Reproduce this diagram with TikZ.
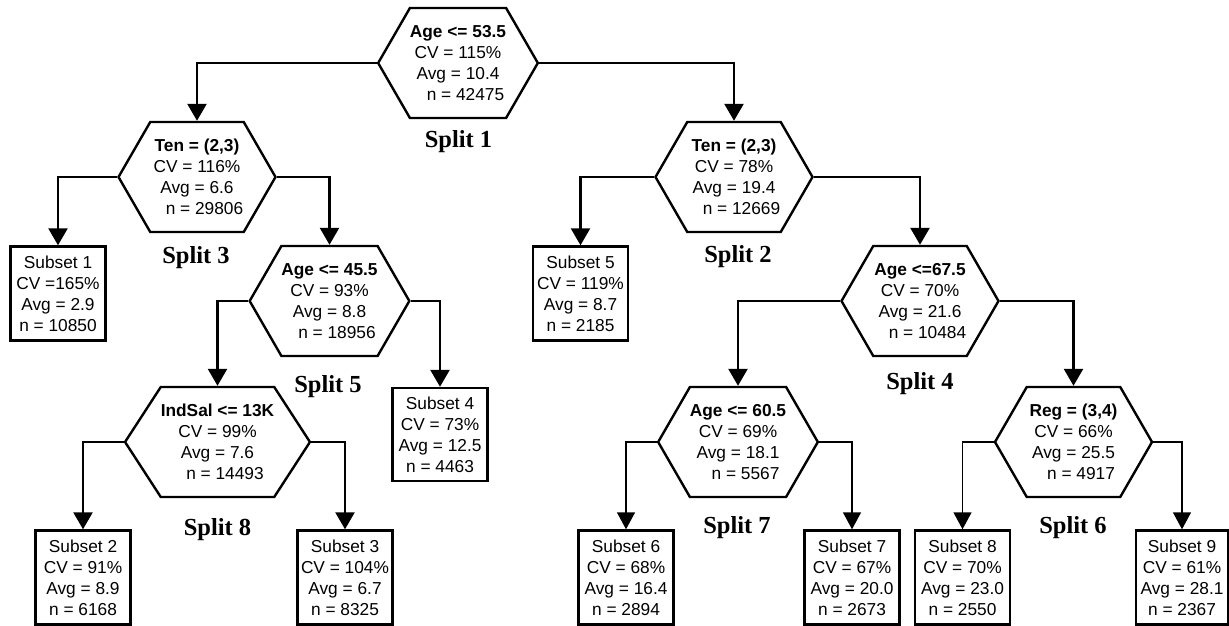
\documentclass[tikz,border=0pt]{standalone}
\usepackage{fontspec}
\setmainfont{Liberation Sans}
\newfontfamily\seriffont{Liberation Serif}
\usetikzlibrary{shapes.symbols,arrows.meta}
\begin{document}
\begin{tikzpicture}[x=1pt,y=-1pt,
  hexnode/.style={draw, line width=2.4pt, shape=signal, signal to=east and west,
    signal pointer angle=120, minimum width=157pt, minimum height=110pt,
    inner sep=0pt, align=center, font=\fontsize{17.3}{21}\selectfont},
  leaf/.style={draw, line width=2.4pt, rectangle, minimum width=95pt,
    minimum height=94pt, inner sep=1pt, align=center,
    font=\fontsize{17.3}{21}\selectfont},
  splitlbl/.style={font=\seriffont\bfseries\fontsize{24.5}{28}\selectfont, anchor=base},
  conn/.style={line width=2.5pt, -{Triangle[width=19pt,length=17pt]}},
  thinconn/.style={line width=1.4pt, -{Triangle[width=18pt,length=17pt]}},
]
\useasboundingbox (0,0) rectangle (1229,626);

% hexagons
\node[hexnode] (root) at (458,63) {\textbf{Age <= 53.5}\\CV = 115\%\\Avg = 10.4\\\hspace*{15pt}n = 42475};
\node[hexnode] (tenL) at (197,177) {\textbf{Ten = (2,3)}\\CV = 116\%\\Avg = 6.6\\\hspace*{15pt}n = 29806};
\node[hexnode] (tenR) at (734,177) {\textbf{Ten = (2,3)}\\CV = 78\%\\Avg = 19.4\\\hspace*{15pt}n = 12669};
\node[hexnode] (age45) at (329.5,301) {\textbf{Age <= 45.5}\\CV = 93\%\\Avg = 8.8\\\hspace*{15pt}n = 18956};
\node[hexnode] (age67) at (920,301) {\textbf{Age <=67.5}\\CV = 70\%\\Avg = 21.6\\\hspace*{15pt}n = 10484};
\node[hexnode, minimum width=181pt, signal pointer angle=114] (indsal) at (217.5,442) {\textbf{IndSal <= 13K}\\CV = 99\%\\Avg = 7.6\\\hspace*{15pt}n = 14493};
\node[hexnode] (age60) at (738,442) {\textbf{Age <= 60.5}\\CV = 69\%\\Avg = 18.1\\\hspace*{15pt}n = 5567};
\node[hexnode] (reg) at (1073.5,442) {\textbf{Reg = (3,4)}\\CV = 66\%\\Avg = 25.5\\\hspace*{15pt}n = 4917};

% leaves
\node[leaf] (s1) at (58,293.5) {Subset 1\\CV =165\%\\Avg = 2.9\\n = 10850};
\node[leaf] (s5) at (580.5,293.5) {Subset 5\\CV = 119\%\\Avg = 8.7\\n = 2185};
\node[leaf, minimum height=93pt] (s4) at (440,434.5) {Subset 4\\CV = 73\%\\Avg = 12.5\\n = 4463};
\node[leaf] (s2) at (83,577.5) {Subset 2\\CV = 91\%\\Avg = 8.9\\n = 6168};
\node[leaf] (s3) at (345,577.5) {Subset 3\\CV = 104\%\\Avg = 6.7\\n = 8325};
\node[leaf] (s6) at (626,577.5) {Subset 6\\CV = 68\%\\Avg = 16.4\\n = 2894};
\node[leaf] (s7) at (852,577.5) {Subset 7\\CV = 67\%\\Avg = 20.0\\n = 2673};
\node[leaf] (s8) at (962.5,577.5) {Subset 8\\CV = 70\%\\Avg = 23.0\\n = 2550};
\node[leaf, minimum width=92pt] (s9) at (1182,577.5) {Subset 9\\CV = 61\%\\Avg = 28.1\\n = 2367};

% split labels
\node[splitlbl] (l1) at (458.5,147) {Split 1};
\node[splitlbl] (l3) at (196,263) {Split 3};
\node[splitlbl] (l2) at (738,262) {Split 2};
\node[splitlbl] (l5) at (328,392) {Split 5};
\node[splitlbl] (l4) at (920,389) {Split 4};
\node[splitlbl] (l8) at (217.5,535) {Split 8};
\node[splitlbl] (l7) at (737,533) {Split 7};
\node[splitlbl] (l6) at (1073,533) {Split 6};

% connectors
\draw[conn] (root.west) -| (tenL.north);
\draw[conn] (root.east) -| (tenR.north);
\draw[conn] (tenL.west) -| (s1.north);
\draw[conn] (tenL.east) -| (age45.north);
\draw[conn] (tenR.west) -| (s5.north);
\draw[conn] (tenR.east) -| (age67.north);
\draw[conn] (age45.west) -| (indsal.north);
\draw[conn] (age45.east) -| (s4.north);
\draw[conn] (age67.west) -| (age60.north);
\draw[conn] (age67.east) -| (reg.north);
\draw[conn] (indsal.west) -| (s2.north);
\draw[conn] (indsal.east) -| (s3.north);
\draw[thinconn] (age60.west) -| (s6.north);
\draw[thinconn] (age60.east) -| (s7.north);
\draw[thinconn] (reg.west) -| (s8.north);
\draw[thinconn] (reg.east) -| (s9.north);
\end{tikzpicture}
\end{document}
